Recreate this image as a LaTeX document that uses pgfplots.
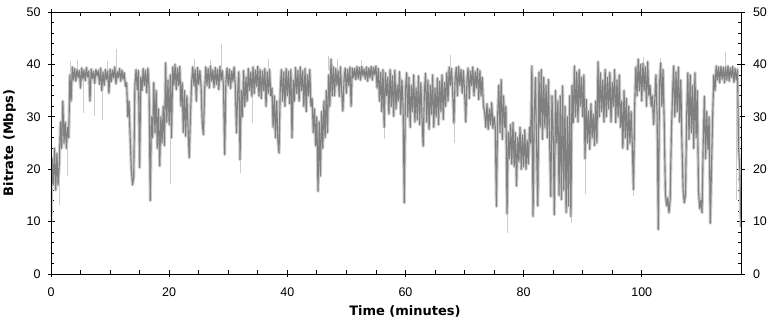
\documentclass[border=0pt]{standalone}
\usepackage{fontspec}
\setmainfont{Liberation Sans}
\newfontfamily\lblfont{DejaVu Sans}
\usepackage{pgfplots}
\usepackage{pgfplotstable}
\pgfplotsset{compat=1.18}
\definecolor{dk}{RGB}{128,128,128}
\definecolor{lt}{RGB}{205,205,205}
% bitrate samples every 0.2 minutes (alternating local top/bottom of the trace)
\pgfplotstableread[row sep=\\]{
v\\
10\\ 22\\ 17\\ 24\\ 16\\ 23\\ 17\\ 21\\ 29\\ 24\\
33\\ 25\\ 29\\ 24\\ 28\\ 26\\ 38\\ 33\\ 39.5\\ 37\\
39.2\\ 36.8\\ 39.0\\ 37.5\\ 38.8\\ 35.5\\ 39.3\\ 37.2\\ 38.9\\ 36.9\\
39.4\\ 37.6\\ 38.7\\ 33.0\\ 39.1\\ 37.3\\ 38.6\\ 36.4\\ 39.0\\ 37.8\\
38.8\\ 36.2\\ 39.3\\ 35.0\\ 38.5\\ 36.0\\ 39.0\\ 37.1\\ 38.7\\ 34.5\\
39.1\\ 36.7\\ 38.9\\ 37.4\\ 39.5\\ 36.3\\ 38.6\\ 37.5\\ 39.2\\ 36.8\\
38.9\\ 37.2\\ 38.4\\ 35.8\\ 36.5\\ 30.0\\ 33.0\\ 26.0\\ 20.0\\ 17.0\\
18.5\\ 36.0\\ 39.0\\ 35.2\\ 38.8\\ 20.3\\ 37.5\\ 35.0\\ 39.2\\ 36.0\\
38.8\\ 34.6\\ 39.3\\ 35.5\\ 14.0\\ 30.0\\ 26.0\\ 36.5\\ 27.0\\ 35.0\\
24.0\\ 31.5\\ 20.6\\ 30.0\\ 25.0\\ 32.0\\ 24.5\\ 40.3\\ 29.0\\ 37.0\\
28.5\\ 38.0\\ 26.0\\ 39.5\\ 36.0\\ 40.0\\ 35.2\\ 39.3\\ 36.0\\ 39.6\\
32.0\\ 36.5\\ 27.0\\ 35.0\\ 26.3\\ 34.0\\ 28.0\\ 22.2\\ 30.0\\ 36.5\\
39.5\\ 36.0\\ 39.0\\ 33.0\\ 39.4\\ 36.2\\ 38.8\\ 35.9\\ 28.9\\ 26.6\\
35.0\\ 39.5\\ 36.0\\ 39.2\\ 35.5\\ 39.7\\ 36.8\\ 38.9\\ 35.6\\ 39.4\\
36.2\\ 39.0\\ 35.2\\ 39.6\\ 37.0\\ 38.8\\ 35.8\\ 22.8\\ 36.5\\ 39.3\\
36.0\\ 39.1\\ 35.4\\ 38.7\\ 36.8\\ 39.5\\ 35.7\\ 26.9\\ 34.5\\ 38.6\\
21.8\\ 35.0\\ 30.0\\ 38.8\\ 32.0\\ 37.5\\ 33.0\\ 39.2\\ 35.0\\ 38.5\\
33.9\\ 39.5\\ 34.5\\ 38.9\\ 35.8\\ 39.6\\ 34.0\\ 39.0\\ 33.5\\ 38.7\\
35.0\\ 39.2\\ 32.0\\ 38.5\\ 34.5\\ 39.0\\ 34.0\\ 35.5\\ 28.0\\ 34.0\\
26.0\\ 33.0\\ 25.7\\ 23.1\\ 35.0\\ 39.0\\ 33.0\\ 38.5\\ 32.0\\ 39.2\\
34.0\\ 38.6\\ 32.5\\ 39.0\\ 26.0\\ 37.0\\ 33.0\\ 39.4\\ 34.5\\ 38.8\\
33.0\\ 39.5\\ 35.0\\ 38.7\\ 32.0\\ 39.2\\ 31.0\\ 38.0\\ 34.0\\ 39.0\\
32.0\\ 33.5\\ 27.0\\ 31.5\\ 24.5\\ 30.0\\ 15.8\\ 29.0\\ 18.7\\ 31.0\\
24.0\\ 33.0\\ 26.0\\ 35.0\\ 27.0\\ 38.0\\ 32.0\\ 41.0\\ 34.0\\ 39.5\\
34.0\\ 39.2\\ 36.0\\ 38.8\\ 33.9\\ 39.5\\ 35.0\\ 31.1\\ 37.0\\ 39.3\\
34.5\\ 39.0\\ 36.0\\ 39.5\\ 32.0\\ 39.3\\ 37.5\\ 39.2\\ 37.1\\ 39.6\\
37.3\\ 39.4\\ 37.0\\ 39.6\\ 37.8\\ 39.1\\ 37.2\\ 39.5\\ 36.8\\ 39.3\\
37.5\\ 39.6\\ 37.0\\ 39.4\\ 38.0\\ 39.7\\ 35.5\\ 39.2\\ 33.0\\ 38.5\\
31.0\\ 39.0\\ 28.0\\ 38.4\\ 34.0\\ 37.5\\ 30.5\\ 39.0\\ 32.0\\ 37.8\\
30.1\\ 38.9\\ 31.5\\ 36.0\\ 33.0\\ 38.6\\ 30.5\\ 37.0\\ 32.0\\ 13.6\\
35.0\\ 38.4\\ 30.0\\ 37.5\\ 28.0\\ 36.0\\ 31.0\\ 38.0\\ 29.0\\ 35.5\\
29.5\\ 37.8\\ 28.5\\ 36.5\\ 30.0\\ 24.4\\ 34.5\\ 38.3\\ 29.0\\ 37.0\\
27.6\\ 36.0\\ 30.5\\ 38.0\\ 28.0\\ 35.5\\ 30.0\\ 37.4\\ 28.5\\ 36.8\\
31.0\\ 38.0\\ 29.5\\ 36.5\\ 32.0\\ 38.4\\ 33.0\\ 39.5\\ 36.0\\ 39.2\\
34.5\\ 28.8\\ 37.0\\ 39.4\\ 34.0\\ 39.6\\ 36.0\\ 39.0\\ 34.5\\ 38.8\\
35.0\\ 29.0\\ 36.5\\ 39.3\\ 33.5\\ 38.7\\ 36.0\\ 39.5\\ 34.0\\ 38.6\\
35.5\\ 39.2\\ 33.3\\ 38.8\\ 34.0\\ 37.5\\ 32.0\\ 31.0\\ 28.0\\ 32.5\\
27.6\\ 31.5\\ 28.5\\ 32.7\\ 27.8\\ 30.0\\ 28.0\\ 12.9\\ 30.0\\ 36.0\\
27.0\\ 37.1\\ 25.7\\ 34.0\\ 28.0\\ 32.0\\ 11.5\\ 27.0\\ 22.0\\ 28.5\\
21.0\\ 28.9\\ 20.5\\ 27.0\\ 16.8\\ 26.0\\ 21.5\\ 28.0\\ 20.0\\ 26.5\\
20.5\\ 27.5\\ 20.0\\ 25.5\\ 21.0\\ 28.0\\ 25.0\\ 39.7\\ 11.0\\ 30.0\\
37.5\\ 24.0\\ 13.0\\ 38.5\\ 28.0\\ 39.0\\ 25.7\\ 37.5\\ 28.0\\ 36.0\\
26.0\\ 37.1\\ 25.7\\ 14.8\\ 34.0\\ 27.0\\ 11.3\\ 35.0\\ 25.0\\ 33.0\\
15.0\\ 34.0\\ 14.2\\ 35.9\\ 16.0\\ 32.0\\ 11.7\\ 30.0\\ 13.0\\ 34.0\\
11.0\\ 36.0\\ 28.9\\ 39.7\\ 30.0\\ 38.5\\ 29.0\\ 39.0\\ 32.0\\ 37.5\\
30.0\\ 38.0\\ 22.0\\ 33.3\\ 25.0\\ 31.0\\ 23.8\\ 32.5\\ 26.0\\ 30.5\\
24.5\\ 33.0\\ 25.0\\ 40.5\\ 30.0\\ 38.4\\ 31.0\\ 37.0\\ 29.0\\ 39.0\\
30.0\\ 37.5\\ 31.5\\ 38.5\\ 29.0\\ 36.5\\ 32.0\\ 39.0\\ 28.9\\ 37.0\\
30.0\\ 38.0\\ 28.0\\ 33.0\\ 24.0\\ 35.0\\ 26.0\\ 33.5\\ 23.8\\ 32.0\\
25.0\\ 31.0\\ 24.5\\ 16.1\\ 32.0\\ 39.5\\ 34.0\\ 41.0\\ 35.0\\ 40.0\\
33.0\\ 40.2\\ 35.0\\ 39.5\\ 32.0\\ 40.5\\ 34.0\\ 36.0\\ 32.0\\ 34.0\\
28.5\\ 33.0\\ 38.0\\ 30.0\\ 8.5\\ 36.0\\ 40.3\\ 32.0\\ 39.0\\ 29.0\\
15.5\\ 13.0\\ 14.5\\ 11.7\\ 14.0\\ 26.0\\ 34.0\\ 39.7\\ 30.0\\ 38.5\\
31.0\\ 39.5\\ 29.0\\ 37.0\\ 25.0\\ 16.0\\ 13.6\\ 15.0\\ 30.0\\ 38.4\\
25.7\\ 38.0\\ 27.0\\ 36.0\\ 24.0\\ 38.4\\ 26.0\\ 35.0\\ 16.0\\ 12.5\\
14.0\\ 11.7\\ 25.0\\ 33.9\\ 22.0\\ 31.0\\ 23.8\\ 30.0\\ 9.7\\ 20.0\\
30.0\\ 38.0\\ 35.0\\ 39.7\\ 37.0\\ 39.5\\ 36.5\\ 39.6\\ 37.2\\ 39.4\\
36.5\\ 39.5\\ 37.0\\ 39.7\\ 36.8\\ 39.3\\ 37.5\\ 39.6\\ 36.6\\ 39.2\\
37.0\\ 39.0\\ 23.8\\ 20.0\\ 9.0\\
}\dark
% light-grey peaks/spikes (segments separated by nan)
\pgfplotstableread[row sep=\\]{
x y\\
1.4 22\\ 1.4 13.2\\ 1.4 nan\\
2.8 28\\ 2.8 18.7\\ 2.8 nan\\
3.2 38\\ 3.2 40.6\\ 3.2 nan\\
4.5 39\\ 4.5 40.8\\ 4.5 nan\\
5.5 37\\ 5.5 30.8\\ 5.5 nan\\
7.3 37\\ 7.3 30.2\\ 7.3 nan\\
8.7 36\\ 8.7 29.3\\ 8.7 nan\\
9.5 39\\ 9.5 40.6\\ 9.5 nan\\
11.1 39\\ 11.1 42.9\\ 11.1 nan\\
16.7 35\\ 16.7 27.6\\ 16.7 nan\\
20.2 30\\ 20.2 17.1\\ 20.2 nan\\
24.3 39\\ 24.3 41.0\\ 24.3 nan\\
26.9 39\\ 26.9 40.8\\ 26.9 nan\\
28.8 39\\ 28.8 43.8\\ 28.8 nan\\
32.1 22\\ 32.1 19.3\\ 32.1 nan\\
34.1 37\\ 34.1 28.9\\ 34.1 nan\\
36.8 39\\ 36.8 41.0\\ 36.8 nan\\
46.9 39\\ 46.9 41.6\\ 46.9 nan\\
48.4 39\\ 48.4 41.0\\ 48.4 nan\\
52.5 39\\ 52.5 40.9\\ 52.5 nan\\
56.5 30\\ 56.5 25.7\\ 56.5 nan\\
67.6 39\\ 67.6 41.7\\ 67.6 nan\\
68.2 29\\ 68.2 25.0\\ 68.2 nan\\
77.2 12\\ 77.2 7.8\\ 77.2 nan\\
88.1 12\\ 88.1 9.7\\ 88.1 nan\\
90.5 30\\ 90.5 15.2\\ 90.5 nan\\
92.6 40\\ 92.6 40.7\\ 92.6 nan\\
98.5 17\\ 98.5 14.8\\ 98.5 nan\\
100.2 40\\ 100.2 41.5\\ 100.2 nan\\
103.2 40\\ 103.2 41.2\\ 103.2 nan\\
114.2 39\\ 114.2 42.3\\ 114.2 nan\\
116.0 37\\ 116.0 14.2\\ 116.0 nan\\
}\spikes
\begin{document}
\begin{tikzpicture}
\path[use as bounding box] (-51pt,-49pt) rectangle (722pt,274pt);
\begin{axis}[
  at={(0pt,0pt)}, anchor=south west,
  scale only axis, width=690pt, height=262pt,
  xmin=0, xmax=116.8, ymin=0, ymax=50,
  xtick={0,20,40,60,80,100}, ytick={0,10,20,30,40,50},
  minor x tick num=3, minor y tick num=4,
  tick align=inside, tick pos=both,
  major tick length=4pt, minor tick length=3.5pt,
  every tick/.append style={black, line width=0.7pt},
  axis line style={line width=0.8pt},
  ticklabel style={font=\fontsize{12.5}{14}\selectfont},
  /pgf/number format/assume math mode=true,
  xticklabel style={yshift=-10pt},
  yticklabel style={xshift=-7pt},
  xlabel={Time (minutes)},
  ylabel={Bitrate (Mbps)},
  label style={font=\lblfont\bfseries\fontsize{13}{15}\selectfont},
  xlabel style={at={(axis description cs:0.513,-0.16)}, anchor=base, inner sep=0pt},
  ylabel style={at={(axis description cs:-0.0507,0.5)}, anchor=south, inner sep=0pt},
  unbounded coords=jump,
]
\addplot[lt, line width=3.2pt, line join=round] table[x expr=\coordindex*0.2, y=v] {\dark};
\addplot[lt, line width=0.8pt] table[x=x, y=y] {\spikes};
\addplot[dk, line width=1.1pt, line join=round] table[x expr=\coordindex*0.2, y=v] {\dark};
\end{axis}
\begin{axis}[
  at={(0pt,0pt)}, anchor=south west,
  scale only axis, width=690pt, height=262pt,
  xmin=0, xmax=116.8, ymin=0, ymax=50,
  xtick={0,20,40,60,80,100}, ytick={0,10,20,30,40,50},
  tick align=outside, tick pos=both,
  major tick length=3.5pt,
  every tick/.append style={black, line width=0.7pt},
  axis line style={line width=0.8pt},
  xticklabels={},
  yticklabel pos=right,
  ticklabel style={font=\fontsize{12.5}{14}\selectfont},
  /pgf/number format/assume math mode=true,
  yticklabel style={xshift=5pt},
]
\end{axis}
\end{tikzpicture}
\end{document}
